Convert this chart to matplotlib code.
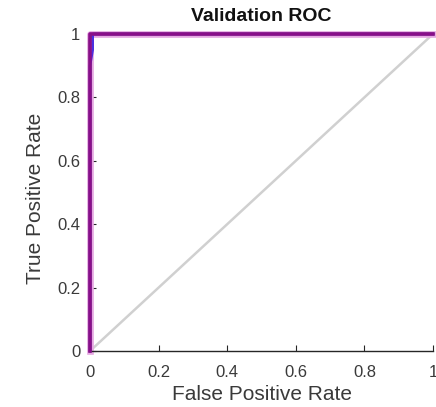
import matplotlib
matplotlib.use("Agg")
import matplotlib.pyplot as plt

plt.rcParams['font.family'] = ['Liberation Sans', 'DejaVu Sans']

# ROC curves per class (false positive rate, true positive rate)
fpr_green = [0.0, 0.0, 0.009, 1.0]
tpr_green = [0.0, 0.985, 1.0, 1.0]
fpr_blue = [0.0, 0.0, 0.008, 0.008, 1.0]
tpr_blue = [0.0, 0.90, 0.95, 1.0, 1.0]
fpr_purple = [0.0, 0.0, 1.0]
tpr_purple = [0.0, 1.0, 1.0]
chance_x = [0.0, 1.0]
chance_y = [0.0, 1.0]

xticks = [0, 0.2, 0.4, 0.6, 0.8, 1]
yticks = [0, 0.2, 0.4, 0.6, 0.8, 1]
xtick_labels = ['0', '0.2', '0.4', '0.6', '0.8', '1']
ytick_labels = ['0', '0.2', '0.4', '0.6', '0.8', '1']

fig = plt.figure(figsize=(4.36, 4.07), dpi=100)
ax = fig.add_axes([90/436, 1 - 351/407, 343/436, 317/407])

ax.plot(chance_x, chance_y, color='#d0d0d0', lw=1.8, zorder=1, solid_capstyle='butt')
ax.plot(fpr_purple, tpr_purple, color='#e6a8e2', lw=4.8, zorder=2, clip_on=False)
ax.plot(fpr_green, tpr_green, color='#3aa33a', lw=1.8, zorder=3, clip_on=False)
ax.plot(fpr_blue, tpr_blue, color='#4a2fe0', lw=1.8, zorder=4, clip_on=False)
ax.plot(fpr_purple, tpr_purple, color='#8a0e8a', lw=2.6, zorder=5, clip_on=False)

ax.set_xlim(0, 1)
ax.set_ylim(0, 1)
ax.set_xticks(xticks)
ax.set_xticklabels(xtick_labels)
ax.set_yticks(yticks)
ax.set_yticklabels(ytick_labels)

for side in ['top', 'right']:
    ax.spines[side].set_visible(False)
for side in ['left', 'bottom']:
    ax.spines[side].set_color('#262626')
    ax.spines[side].set_linewidth(1.0)

ax.tick_params(direction='in', length=4, width=0.8, colors='#262626', labelsize=12)
ax.tick_params(axis='x', pad=10)
ax.tick_params(axis='y', pad=7)
for lbl in ax.get_xticklabels() + ax.get_yticklabels():
    lbl.set_color('#3a3a3a')

ax.set_xlabel('False Positive Rate', fontsize=15, color='#3a3a3a', va='center')
ax.xaxis.set_label_coords(0.5, (351 - 394) / 317)
ax.set_ylabel('True Positive Rate', fontsize=15, color='#3a3a3a', va='center')
ax.yaxis.set_label_coords((36 - 90) / 343, (351 - 198) / 317)
ax.text(0.5, (351 - 17) / 317, 'Validation ROC', transform=ax.transAxes,
        ha='center', va='center', fontsize=14, fontweight='bold', color='#111111')

fig.savefig('out.png', dpi=100)
